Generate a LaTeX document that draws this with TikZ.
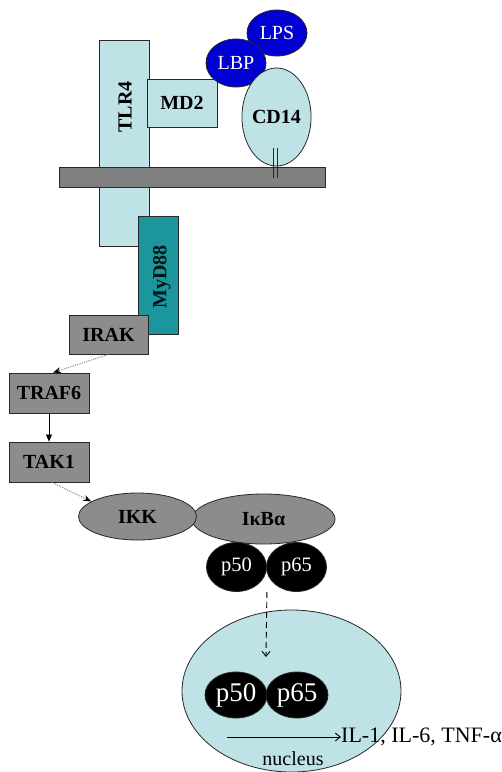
\documentclass[tikz,border=0pt]{standalone}
\usepackage{fontspec}
\setmainfont{Liberation Serif}
\usetikzlibrary{shapes.geometric,arrows.meta,calc}
\definecolor{paleblue}{RGB}{191,226,230}
\definecolor{membranegray}{RGB}{128,128,128}
\definecolor{boxgray}{RGB}{140,140,140}
\definecolor{tealbox}{RGB}{26,150,156}
\definecolor{ligand}{RGB}{0,0,210}
\definecolor{edgecol}{RGB}{40,40,40}
\begin{document}
\begin{tikzpicture}[x=1pt,y=-1pt,
  outline/.style={draw=edgecol,line width=0.8pt},
  boxlbl/.style={font=\fontsize{20}{20}\selectfont\bfseries},
  recbox/.style={outline,rectangle,inner sep=0pt},
  ell/.style={outline,ellipse,inner sep=0pt},
  graybox/.style={recbox,fill=boxgray,minimum width=80pt,minimum height=40pt,boxlbl},
  ligandell/.style={ell,fill=ligand,text=white,minimum width=60pt,font=\fontsize{20}{20}\selectfont},
  dimer/.style={ell,fill=black,text=white},
  dottedarrow/.style={densely dotted,draw=gray,line width=0.9pt,-{Stealth[length=8pt,width=6pt,black]}},
  openarrow/.style={line width=0.9pt,-{Straight Barb[length=5pt,width=8pt]}}
]
\useasboundingbox (0,0) rectangle (502,772);
\fill[white] (0,0) rectangle (502,772);

% receptor complex at the membrane
\node[recbox,fill=paleblue,minimum width=50pt,minimum height=206pt] (tlr4) at (124,143) {};
\node[boxlbl,rotate=90] (tlr4lbl) at (125,107) {TLR4};
\node[recbox,fill=paleblue,minimum width=70pt,minimum height=48pt,boxlbl] (md2) at (182,103) {MD2};
\node[ligandell,minimum height=46pt] (lps) at (277,33) {LPS};
\node[ligandell,minimum height=48pt] (lbp) at (236,63) {LBP};
\node[ell,fill=paleblue,minimum width=59pt,minimum height=98pt,boxlbl] (cd14) at (276.5,117) {CD14};
\node[recbox,fill=membranegray,minimum width=266pt,minimum height=20pt] (membrane) at (192,177) {};
% GPI anchor of CD14 through the membrane
\coordinate (anchortop) at (275.5,148);
\coordinate (anchorbot) at (275.5,178);
\draw[edgecol,line width=0.9pt] ([xshift=-1.6pt]anchortop) -- ([xshift=-1.6pt]anchorbot)
                                 ([xshift=1.6pt]anchortop) -- ([xshift=1.6pt]anchorbot);

% adaptor and kinase cascade
\node[recbox,fill=tealbox,minimum width=40pt,minimum height=118pt] (myd88) at (158,275) {};
\node[boxlbl,rotate=90,text=black!85!tealbox] (myd88lbl) at (162,277) {MyD88};
\node[graybox,minimum width=79pt,minimum height=39pt] (irak) at (108.5,334.5) {IRAK};
\node[graybox] (traf6) at (49,393) {TRAF6};
\node[graybox] (tak1) at (49,462) {TAK1};

\draw[dottedarrow] (irak.south) -- ([xshift=4pt]traf6.north);
\draw[line width=0.7pt,-{Triangle[length=7pt,width=6pt]}] (traf6) -- (tak1);

% IKK and the inhibitor complex
\node[ell,fill=boxgray,minimum width=143pt,minimum height=50pt,boxlbl] (ikba) at (263.5,519) {IκBα};
\node[ell,fill=boxgray,minimum width=118pt,minimum height=47pt,boxlbl] (ikk) at (137.5,516.5) {IKK};
\draw[dottedarrow] ([xshift=3pt]tak1.south) -- (ikk.162);

\node[dimer,minimum width=60pt,minimum height=49pt,font=\fontsize{20.5}{20}\selectfont] (p50a) at (236.5,567) {p50};
\node[dimer,minimum width=60pt,minimum height=49pt,font=\fontsize{20.5}{20}\selectfont] (p65a) at (296.5,567) {p65};

% nucleus
\node[ell,fill=paleblue,minimum width=219pt,minimum height=162pt] (nucleus) at (291.5,691) {};
\node[dimer,minimum width=62pt,minimum height=46pt,font=\fontsize{27}{27}\selectfont] (p50b) at (236,695) {p50};
\node[dimer,minimum width=62pt,minimum height=46pt,font=\fontsize{27}{27}\selectfont] (p65b) at (297,695) {p65};
\node[font=\fontsize{20}{20}\selectfont] (nuclbl) at (293,759) {nucleus};

\coordinate (droptip) at (266,657);
\draw[openarrow,dashed,dash pattern=on 6pt off 4pt] (p50a.east |- p50a.south) -- (droptip);

\node[anchor=west,inner sep=0pt,font=\fontsize{22}{22}\selectfont] (genes) at (341,737) {IL-1, IL-6, TNF-α};
\coordinate (txstart) at (227,737);
\draw[openarrow] (txstart) -- (genes.west);
\end{tikzpicture}
\end{document}
